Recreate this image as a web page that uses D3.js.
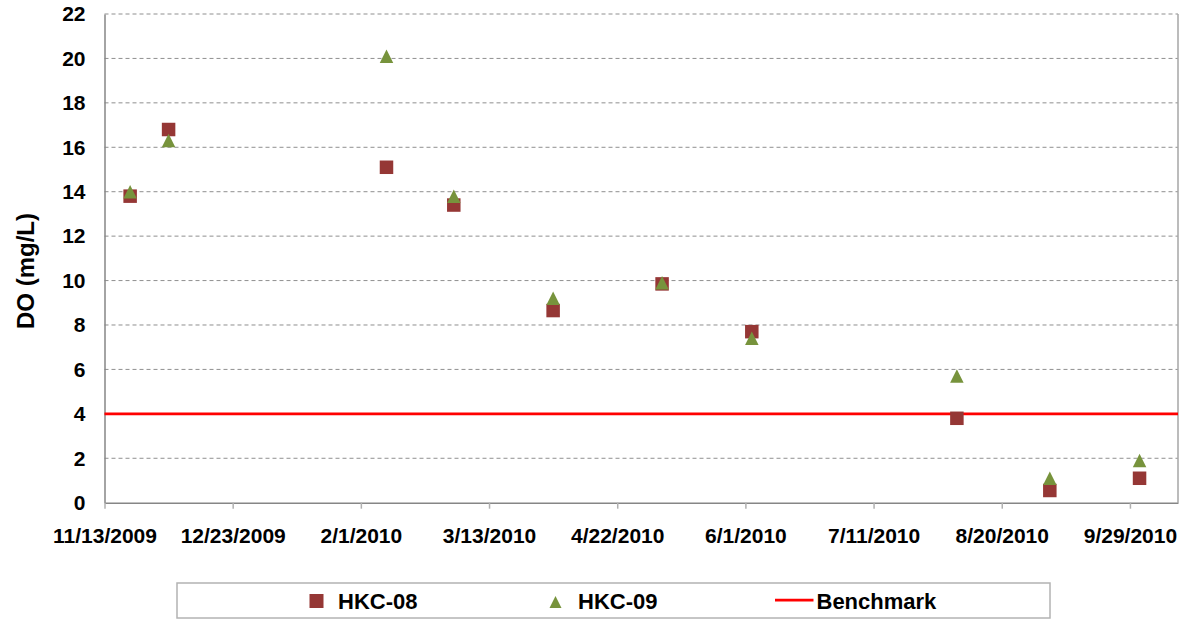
<!DOCTYPE html>
<html>
<head>
<meta charset="utf-8">
<script src="https://cdn.jsdelivr.net/npm/d3@7"></script>
<style>
  html, body { margin: 0; padding: 0; background: #fff; }
  svg { display: block; font-family: Arial, "Liberation Sans", sans-serif; }
</style>
</head>
<body>
<svg id="chart" width="1189" height="619"></svg>
<script>
// Sampling dates and dissolved oxygen readings (mg/L)
const sampleDates = ["11/21/2009", "12/3/2009", "2/9/2010", "3/2/2010", "4/2/2010",
                     "5/6/2010", "6/3/2010", "8/6/2010", "9/4/2010", "10/2/2010"];
const hkc08 = [13.8, 16.8, 15.1, 13.4, 8.65, 9.85, 7.7, 3.8, 0.55, 1.1];
const hkc09 = [14.0, 16.3, 20.1, 13.8, 9.2, 9.9, 7.4, 5.7, 1.1, 1.9];

// Benchmark line (4 mg/L) across the full date range
const benchmarkDates = ["11/13/2009", "10/14/2010"];
const benchmarkValues = [4, 4];

// Axis ticks
const xTickLabels = ["11/13/2009", "12/23/2009", "2/1/2010", "3/13/2010", "4/22/2010",
                     "6/1/2010", "7/11/2010", "8/20/2010", "9/29/2010"];
const yTicks = [0, 2, 4, 6, 8, 10, 12, 14, 16, 18, 20, 22];

const parse = d3.utcParse("%m/%d/%Y");
const fmt = d => `${d.getUTCMonth() + 1}/${d.getUTCDate()}/${d.getUTCFullYear()}`;

const plotLeft = 104.5, plotRight = 1178, plotTop = 14, plotBottom = 502.7;

const x = d3.scaleUtc()
  .domain([parse("11/13/2009"), parse("10/14/2010")])
  .range([plotLeft, plotRight]);
const y = d3.scaleLinear().domain([0, 22]).range([plotBottom, plotTop]);

const svg = d3.select("#chart");

// Dashed horizontal gridlines
svg.append("g")
  .selectAll("line")
  .data(yTicks.filter(v => v > 0))
  .join("line")
  .attr("x1", plotLeft).attr("x2", plotRight)
  .attr("y1", d => y(d)).attr("y2", d => y(d))
  .attr("stroke", "#8f8f8f")
  .attr("stroke-width", 1)
  .attr("stroke-dasharray", "4,3");

// Right border of plot area
svg.append("line")
  .attr("x1", plotRight).attr("x2", plotRight)
  .attr("y1", plotTop).attr("y2", plotBottom)
  .attr("stroke", "#a6a6a6").attr("stroke-width", 1.5);

// Y axis
const yAxis = svg.append("g")
  .attr("transform", `translate(${plotLeft},0)`)
  .call(d3.axisLeft(y).tickValues(yTicks).tickSize(0).tickPadding(19));
yAxis.select(".domain").attr("stroke", "#868686").attr("stroke-width", 1.5);
yAxis.selectAll("text")
  .attr("font-size", 21).attr("font-weight", "bold").attr("fill", "#000")
  .attr("font-family", "Arial, 'Liberation Sans', sans-serif");

// X axis
const xAxis = svg.append("g")
  .attr("transform", `translate(0,${plotBottom})`)
  .call(d3.axisBottom(x)
    .tickValues(xTickLabels.map(parse))
    .tickFormat(fmt)
    .tickSize(6)
    .tickSizeOuter(0)
    .tickPadding(19));
xAxis.select(".domain").attr("stroke", "#868686").attr("stroke-width", 1.5);
xAxis.selectAll(".tick line").attr("stroke", "#b0b0b0").attr("stroke-width", 1.5);
xAxis.selectAll("text")
  .attr("font-size", 21).attr("font-weight", "bold").attr("fill", "#000")
  .attr("font-family", "Arial, 'Liberation Sans', sans-serif");

// Y axis title
svg.append("text")
  .attr("transform", `translate(33.5,271) rotate(-90)`)
  .attr("text-anchor", "middle")
  .attr("font-size", 24).attr("font-weight", "bold")
  .text("DO (mg/L)");

// Benchmark line
const line = d3.line().x(d => x(d[0])).y(d => y(d[1]));
svg.append("path")
  .datum(benchmarkDates.map((d, i) => [parse(d), benchmarkValues[i]]))
  .attr("d", line)
  .attr("fill", "none")
  .attr("stroke", "#ff0000")
  .attr("stroke-width", 2.75);

const sqColor = "#953735", triColor = "#77933c";
const sq = 13.5;
const triPath = s => `M0,${-s / 2}L${s / 2},${s / 2}L${-s / 2},${s / 2}Z`;

// HKC-08 squares
svg.append("g")
  .selectAll("rect")
  .data(sampleDates.map((d, i) => [parse(d), hkc08[i]]))
  .join("rect")
  .attr("x", d => x(d[0]) - sq / 2)
  .attr("y", d => y(d[1]) - sq / 2)
  .attr("width", sq).attr("height", sq)
  .attr("fill", sqColor);

// HKC-09 triangles
svg.append("g")
  .selectAll("path")
  .data(sampleDates.map((d, i) => [parse(d), hkc09[i]]))
  .join("path")
  .attr("transform", d => `translate(${x(d[0])},${y(d[1])})`)
  .attr("d", triPath(13.5))
  .attr("fill", triColor);

// Legend
const lg = svg.append("g");
lg.append("rect")
  .attr("x", 177).attr("y", 583).attr("width", 873).attr("height", 35)
  .attr("fill", "#fff").attr("stroke", "#b3b3b3").attr("stroke-width", 1.5);

lg.append("rect").attr("x", 309.5).attr("y", 594).attr("width", 14).attr("height", 14)
  .attr("fill", sqColor);
lg.append("text").attr("x", 338).attr("y", 609).attr("font-size", 22)
  .attr("font-weight", "bold").text("HKC-08");

lg.append("path").attr("transform", "translate(555.5,602)").attr("d", triPath(12))
  .attr("fill", triColor);
lg.append("text").attr("x", 578).attr("y", 609).attr("font-size", 22)
  .attr("font-weight", "bold").text("HKC-09");

lg.append("line").attr("x1", 775).attr("x2", 813.5).attr("y1", 600).attr("y2", 600)
  .attr("stroke", "#ff0000").attr("stroke-width", 2.75);
lg.append("text").attr("x", 816.5).attr("y", 609).attr("font-size", 22)
  .attr("font-weight", "bold").text("Benchmark");
</script>
</body>
</html>
